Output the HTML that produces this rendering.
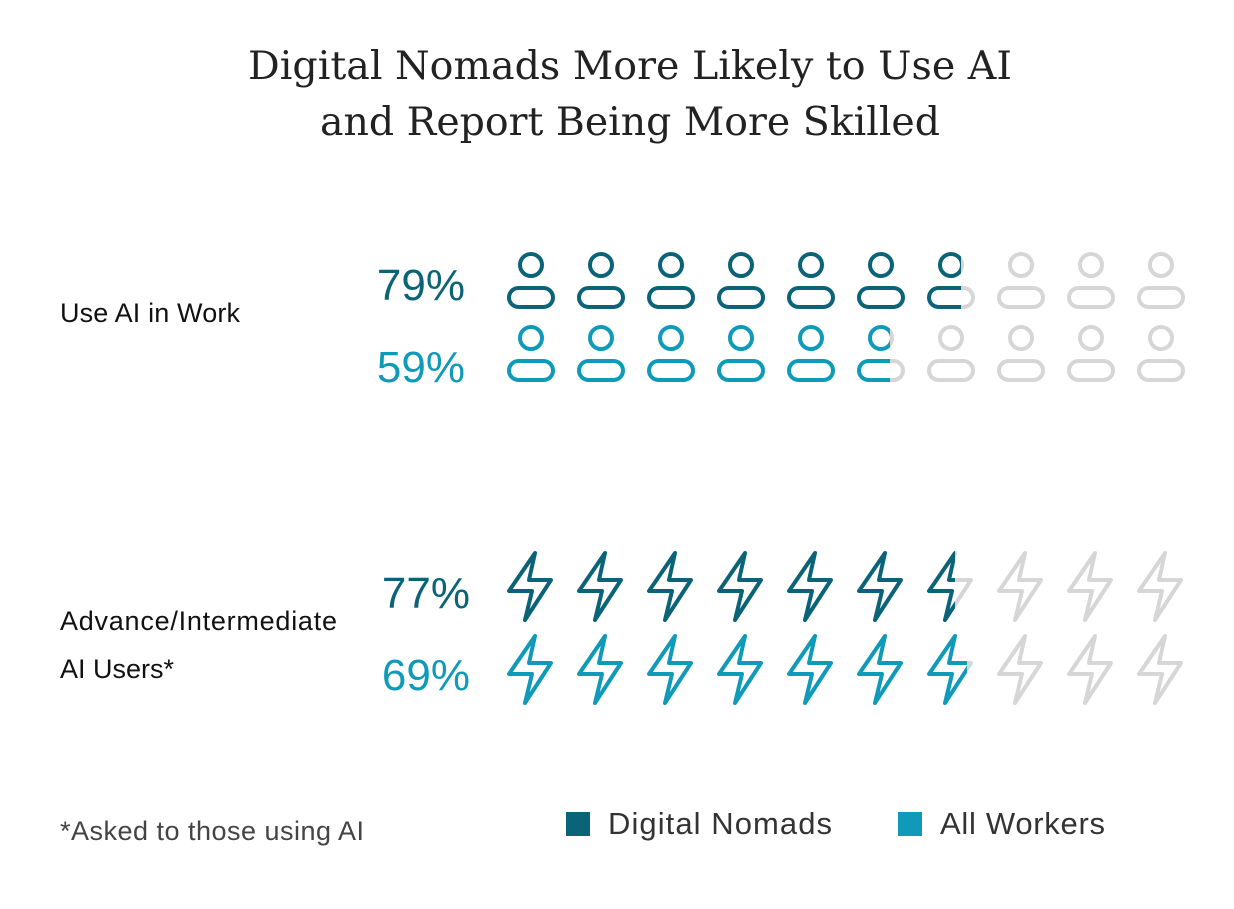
<!DOCTYPE html>
<html><head><style>
body{margin:0;background:#fff;width:1234px;height:904px;overflow:hidden;font-family:"Liberation Sans",sans-serif}
</style></head><body>
<svg width="1234" height="904" xmlns="http://www.w3.org/2000/svg">
<defs>
<g id="p"><circle cx="0" cy="0" r="11" fill="none" stroke-width="4"/><rect x="-22" y="23" width="44" height="19" rx="9.5" fill="none" stroke-width="4"/></g>
<g id="b"><path d="M4,0 L-22,38 L1,38 L-6,67 L20,27 L-2,27 Z" fill="none" stroke-width="4" stroke-linejoin="round"/></g>
<clipPath id="c1"><rect x="0" y="0" width="961" height="904"/></clipPath>
<clipPath id="c2"><rect x="0" y="0" width="890" height="904"/></clipPath>
<clipPath id="c3"><rect x="0" y="0" width="955" height="904"/></clipPath>
<clipPath id="c4"><rect x="0" y="0" width="967" height="904"/></clipPath>
</defs>
<text x="630" y="79" text-anchor="middle" font-family="DejaVu Serif,serif" font-size="39" fill="#222" textLength="764" lengthAdjust="spacingAndGlyphs">Digital Nomads More Likely to Use AI</text>
<text x="630" y="135" text-anchor="middle" font-family="DejaVu Serif,serif" font-size="39" fill="#222" textLength="620" lengthAdjust="spacingAndGlyphs">and Report Being More Skilled</text>
<text x="60" y="322" font-size="27" fill="#111" textLength="180">Use AI in Work</text>
<text x="60" y="630" font-size="27" fill="#111" textLength="277">Advance/Intermediate</text>
<text x="60" y="678" font-size="27" fill="#111">AI Users*</text>
<text x="465" y="300" text-anchor="end" font-size="44" fill="#0b6378">79%</text>
<text x="465" y="382" text-anchor="end" font-size="44" fill="#0e9ab8">59%</text>
<text x="470" y="608" text-anchor="end" font-size="44" fill="#0b6378">77%</text>
<text x="470" y="690" text-anchor="end" font-size="44" fill="#0e9ab8">69%</text>
<text x="60" y="840" font-size="27" fill="#444" textLength="304">*Asked to those using AI</text>
<rect x="566" y="812" width="24" height="24" fill="#0b6378"/>
<text x="608" y="834" font-size="31" fill="#333" textLength="224">Digital Nomads</text>
<rect x="898" y="812" width="24" height="24" fill="#0e9ab8"/>
<text x="940" y="834" font-size="31" fill="#333" textLength="165">All Workers</text>
<g stroke="#d6d6d6">
<use href="#p" x="531" y="265"/><use href="#p" x="601" y="265"/><use href="#p" x="671" y="265"/><use href="#p" x="741" y="265"/><use href="#p" x="811" y="265"/><use href="#p" x="881" y="265"/><use href="#p" x="951" y="265"/><use href="#p" x="1021" y="265"/><use href="#p" x="1091" y="265"/><use href="#p" x="1161" y="265"/>
<use href="#p" x="531" y="338"/><use href="#p" x="601" y="338"/><use href="#p" x="671" y="338"/><use href="#p" x="741" y="338"/><use href="#p" x="811" y="338"/><use href="#p" x="881" y="338"/><use href="#p" x="951" y="338"/><use href="#p" x="1021" y="338"/><use href="#p" x="1091" y="338"/><use href="#p" x="1161" y="338"/>
<use href="#b" x="531" y="553"/><use href="#b" x="601" y="553"/><use href="#b" x="671" y="553"/><use href="#b" x="741" y="553"/><use href="#b" x="811" y="553"/><use href="#b" x="881" y="553"/><use href="#b" x="951" y="553"/><use href="#b" x="1021" y="553"/><use href="#b" x="1091" y="553"/><use href="#b" x="1161" y="553"/>
<use href="#b" x="531" y="636"/><use href="#b" x="601" y="636"/><use href="#b" x="671" y="636"/><use href="#b" x="741" y="636"/><use href="#b" x="811" y="636"/><use href="#b" x="881" y="636"/><use href="#b" x="951" y="636"/><use href="#b" x="1021" y="636"/><use href="#b" x="1091" y="636"/><use href="#b" x="1161" y="636"/>
</g>
<g clip-path="url(#c1)"><rect x="500" y="245" width="470" height="70" fill="#fff"/><g stroke="#0b6378">
<use href="#p" x="531" y="265"/><use href="#p" x="601" y="265"/><use href="#p" x="671" y="265"/><use href="#p" x="741" y="265"/><use href="#p" x="811" y="265"/><use href="#p" x="881" y="265"/><use href="#p" x="951" y="265"/>
</g></g>
<g clip-path="url(#c2)"><rect x="500" y="320" width="400" height="70" fill="#fff"/><g stroke="#0e9ab8">
<use href="#p" x="531" y="338"/><use href="#p" x="601" y="338"/><use href="#p" x="671" y="338"/><use href="#p" x="741" y="338"/><use href="#p" x="811" y="338"/><use href="#p" x="881" y="338"/>
</g></g>
<g clip-path="url(#c3)"><rect x="500" y="545" width="470" height="80" fill="#fff"/><g stroke="#0b6378">
<use href="#b" x="531" y="553"/><use href="#b" x="601" y="553"/><use href="#b" x="671" y="553"/><use href="#b" x="741" y="553"/><use href="#b" x="811" y="553"/><use href="#b" x="881" y="553"/><use href="#b" x="951" y="553"/>
</g></g>
<g clip-path="url(#c4)"><rect x="500" y="630" width="470" height="80" fill="#fff"/><g stroke="#0e9ab8">
<use href="#b" x="531" y="636"/><use href="#b" x="601" y="636"/><use href="#b" x="671" y="636"/><use href="#b" x="741" y="636"/><use href="#b" x="811" y="636"/><use href="#b" x="881" y="636"/><use href="#b" x="951" y="636"/>
</g></g>
</svg>
</body></html>
